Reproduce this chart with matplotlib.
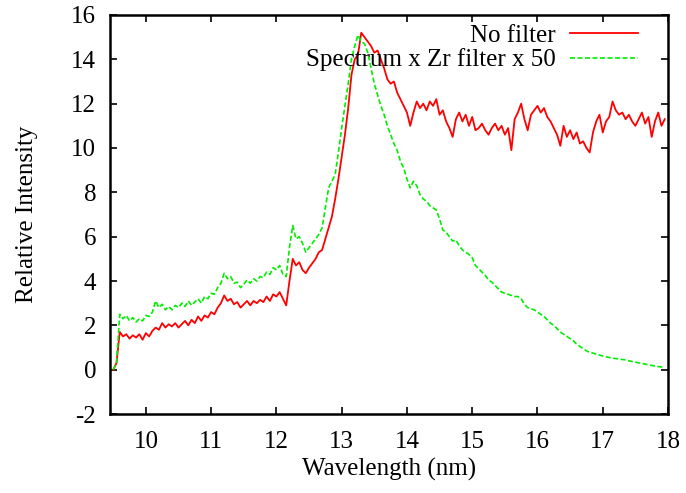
import numpy as np
import matplotlib
matplotlib.use('Agg')
import matplotlib.pyplot as plt

# spectra, one value every 0.05 nm from 9.50 nm
wl_start = 9.50
wl_step = 0.05

no_filter = [
    0.0, 0.3, 1.7, 1.5, 1.6, 1.4, 1.55, 1.45, 1.6, 1.35,
    1.65, 1.5, 1.75, 1.9, 1.8, 2.1, 1.9, 2.05, 1.95, 2.1,
    1.9, 2.05, 2.2, 2.0, 2.25, 2.1, 2.4, 2.2, 2.45, 2.35,
    2.6, 2.5, 2.8, 3.0, 3.35, 3.1, 3.2, 2.95, 3.05, 2.8,
    2.95, 3.1, 2.9, 3.1, 3.0, 3.15, 3.05, 3.3, 3.1, 3.4,
    3.3, 3.5, 3.2, 2.9, 4.0, 5.0, 4.7, 4.85, 4.5, 4.35,
    4.6, 4.8, 5.0, 5.3, 5.4, 5.9, 6.4, 6.9, 7.7, 8.6,
    9.6, 10.6, 11.8, 13.3, 14.0, 14.2, 15.2, 15.0, 14.8, 14.6,
    14.3, 14.4, 14.0, 13.6, 13.1, 12.9, 13.0, 12.5, 12.2, 11.9,
    11.6, 11.0, 11.6, 12.1, 11.8, 12.0, 11.7, 12.1, 11.9, 12.2,
    11.5, 11.7, 11.2, 10.9, 10.5, 11.3, 11.6, 11.2, 11.5, 11.0,
    11.4, 10.8, 10.9, 11.1, 10.8, 10.6, 10.9, 11.1, 10.8, 11.0,
    10.6, 10.9, 9.9, 11.3, 11.6, 12.0, 11.3, 10.8, 11.5, 11.7,
    11.9, 11.6, 11.8, 11.4, 11.2, 10.9, 10.6, 10.1, 11.0, 10.5,
    10.8, 10.4, 10.7, 10.2, 10.3, 10.0, 9.8, 10.7, 11.2, 11.5,
    10.7, 11.2, 11.4, 12.1, 11.7, 11.5, 11.6, 11.3, 11.5, 11.2,
    11.0, 11.3, 11.6, 11.1, 11.4, 10.5, 11.2, 11.6, 11.0, 11.3,
]

zr_filter_x50 = [
    0.0, 0.3, 2.5, 2.3, 2.45, 2.2, 2.35, 2.15, 2.3, 2.2,
    2.45, 2.4, 2.6, 3.1, 2.8, 2.95, 2.7, 2.85, 2.7, 2.9,
    2.8, 3.0, 2.85, 3.1, 2.9, 3.05, 3.2, 3.0, 3.3, 3.2,
    3.45, 3.4, 3.7, 3.9, 4.35, 4.1, 4.2, 3.9, 3.95, 3.7,
    3.85, 4.05, 3.9, 4.1, 4.0, 4.2, 4.15, 4.4, 4.3, 4.6,
    4.5, 4.7, 4.3, 4.2, 5.5, 6.5, 5.9, 6.0, 5.7, 5.3,
    5.5, 5.7, 5.9, 6.1, 6.4, 7.3, 8.2, 8.5, 8.8, 9.8,
    10.9, 11.9, 12.9, 14.0, 14.6, 15.1, 14.8, 14.7, 14.3, 13.6,
    12.9, 12.4, 11.9, 11.5, 11.0, 10.6, 10.2, 9.9, 9.4, 9.1,
    8.6, 8.2, 8.5, 8.3, 7.9, 7.7, 7.6, 7.4, 7.3, 7.2,
    6.8, 6.3, 6.2, 6.0, 5.8, 5.85, 5.6, 5.4, 5.3, 5.2,
    5.05, 4.7, 4.55, 4.4, 4.25, 4.05, 3.95, 3.8, 3.65, 3.5,
    3.45, 3.4, 3.35, 3.3, 3.3, 3.2, 2.95, 2.8, 2.75, 2.7,
    2.6, 2.5, 2.4, 2.25, 2.1, 2.0, 1.85, 1.7, 1.6, 1.5,
    1.4, 1.3, 1.15, 1.05, 0.95, 0.85, 0.78, 0.75, 0.7, 0.66,
    0.62, 0.58, 0.55, 0.52, 0.5, 0.48, 0.46, 0.44, 0.4, 0.37,
    0.34, 0.31, 0.28, 0.25, 0.22, 0.19, 0.16, 0.14, 0.12, 0.1,
]

wl = wl_start + wl_step * np.arange(len(no_filter))

xticks = [10, 11, 12, 13, 14, 15, 16, 17, 18]
yticks = [-2, 0, 2, 4, 6, 8, 10, 12, 14, 16]

plt.rcParams['font.family'] = ['Liberation Serif', 'DejaVu Serif']
plt.rcParams['font.size'] = 18
plt.rcParams['axes.unicode_minus'] = False

fig = plt.figure(figsize=(6.86, 4.93), dpi=100)
ax = fig.add_axes([0.1603, 0.1602, 0.9738 - 0.1603, 0.9696 - 0.1602])

ax.plot(wl, no_filter, color='#ff0000', lw=1.3, label='No filter')
ax.plot(wl, zr_filter_x50, color='#00ee00', lw=1.2, ls=(0, (3, 1.5)),
        label='Spectrum x Zr filter x 50')

ax.set_xlim(9.45, 18)
ax.set_ylim(-2, 16)
ax.set_xticks(xticks)
ax.set_yticks(yticks)
ax.tick_params(direction='in', length=5, width=1.2, top=True, right=True)
ax.tick_params(axis='y', pad=10)
ax.tick_params(axis='x', pad=12)
for s in ax.spines.values():
    s.set_linewidth(1.8)

ax.set_xlabel('Wavelength (nm)', labelpad=4)
ax.set_ylabel('Relative Intensity', labelpad=24)

leg = ax.legend(loc='upper right', bbox_to_anchor=(0.930, 0.950),
                bbox_transform=fig.transFigure, frameon=False, markerfirst=False,
                handlelength=2.7, handletextpad=0.6, labelspacing=0.05,
                borderpad=0, borderaxespad=0)
for t in leg.get_texts():
    t.set_ha('right')

fig.savefig('out.png', dpi=100)
